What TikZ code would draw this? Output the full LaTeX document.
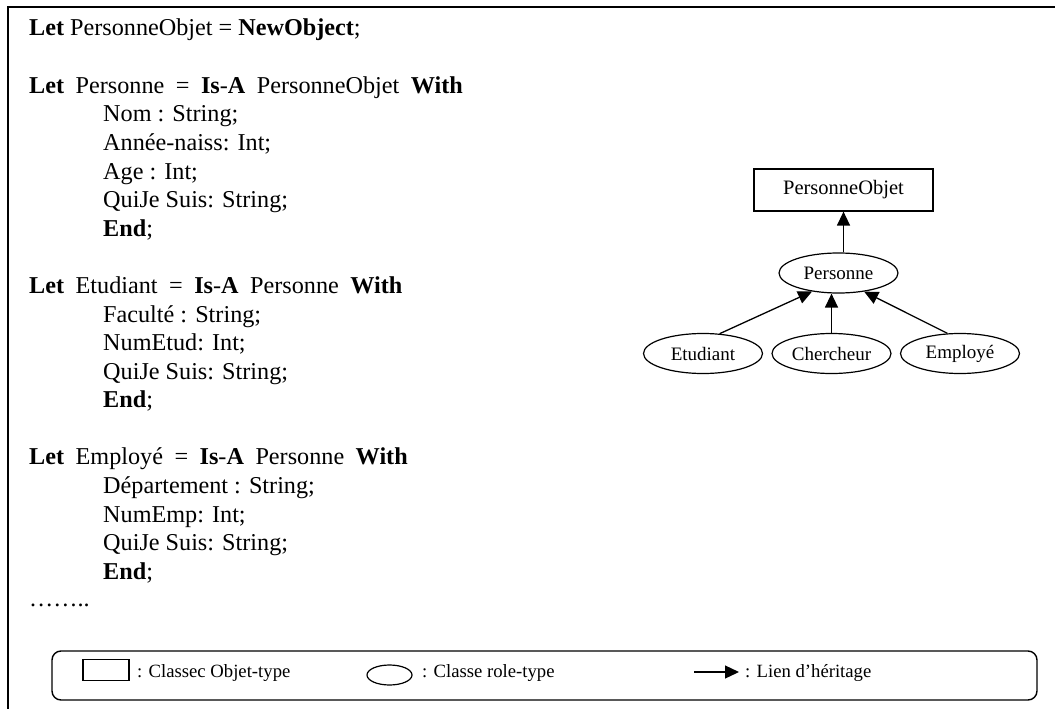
\documentclass[tikz,border=0pt]{standalone}
\usepackage{fontspec}
\setmainfont{Liberation Serif}
\usetikzlibrary{arrows.meta,shapes.geometric}
% one declaration line of the schema: Let <name> = Is-A <parent> With
\newcommand\wgap{\hspace{11.5pt}}
\newcommand\letline[2]{\textbf{Let}\wgap #1\wgap=\wgap\textbf{Is}-\textbf{A}\wgap #2\wgap\textbf{With}}
\begin{document}
\begin{tikzpicture}[x=1pt,y=-1pt,
  code/.style={anchor=base west,inner sep=0,font=\fontsize{24.2}{28}\selectfont},
  objbox/.style={draw,line width=1.2pt,minimum width=179pt,minimum height=42pt,inner sep=0,
    font=\fontsize{20.5}{20.5}\selectfont},
  role/.style={draw,ellipse,line width=1.2pt,minimum width=119pt,minimum height=40pt,inner sep=0,
    font=\fontsize{19}{19}\selectfont},
  isa/.style={line width=1.3pt,-{Triangle[length=14pt,width=13pt]}},
  legtxt/.style={anchor=base west,inner sep=0,font=\fontsize{18.7}{18.7}\selectfont}]
\useasboundingbox (0,0) rectangle (1055,709);
% frame
\draw[line width=2pt] (8,709) -- (8,7) -- (1055,7);

% schema declarations
\node[code] (c0) at (29,36) {\textbf{Let} PersonneObjet = \textbf{NewObject};};

\node[code] (c2) at (29,93.2) {\letline{Personne}{PersonneObjet}};
\node[code] (c3) at (103,121.8) {Nom : String;};
\node[code] (c4) at (103,150.4) {Année-naiss: Int;};
\node[code] (c5) at (103,179) {Age : Int;};
\node[code] (c6) at (103,207.6) {QuiJe Suis: String;};
\node[code] (c7) at (103,236.2) {\textbf{End};};

\node[code] (c9) at (29,293.4) {\letline{Etudiant}{Personne}};
\node[code] (c10) at (103,322) {Faculté : String;};
\node[code] (c11) at (103,350.6) {NumEtud: Int;};
\node[code] (c12) at (103,379.2) {QuiJe Suis: String;};
\node[code] (c13) at (103,407.8) {\textbf{End};};

\node[code] (c15) at (29,464) {\letline{Employé}{Personne}};
\node[code] (c16) at (103,493) {Département : String;};
\node[code] (c17) at (103,522) {NumEmp: Int;};
\node[code] (c18) at (103,550.8) {QuiJe Suis: String;};
\node[code] (c19) at (103,579.4) {\textbf{End};};
\node[code] (c20) at (29,606) {……..};

% inheritance hierarchy
\node[objbox] (po) at (843.5,190) {PersonneObjet\hspace{17pt}};
\node[role] (pe) at (838.5,273) {Personne};
\node[role] (et) at (703,353.5) {Etudiant};
\node[role] (ch) at (831.5,353.5) {Chercheur};
\node[role] (em) at (960,353.5) {Employé};
\draw[isa] (pe.north -| po.south) -- (po.south);
\draw[isa] (et.50) -- (pe.215);
\draw[isa] (ch.north) -- (ch.north |- pe.south);
\draw[isa] (em.122) -- (pe.324);

% legend
\node[draw,line width=1.4pt,rounded corners=9pt,minimum width=985pt,minimum height=49pt,inner sep=0] (leg) at (544.5,675.5) {};
\node[draw,line width=1.2pt,minimum width=46pt,minimum height=21pt,inner sep=0] (lr) at (106,670) {};
\node[legtxt] (lrt) at (137,677) {: Classec Objet-type};
\node[draw,ellipse,line width=1.2pt,minimum width=45pt,minimum height=20pt,inner sep=0] (le) at (389.5,675) {};
\node[legtxt] (let) at (422,677) {: Classe role-type};
\coordinate (la0) at (694,672);
\coordinate (la1) at (739,672);
\draw[isa] (la0) -- (la1);
\node[legtxt] (lat) at (745,677) {: Lien d\symbol{39}héritage};
\end{tikzpicture}
\end{document}
